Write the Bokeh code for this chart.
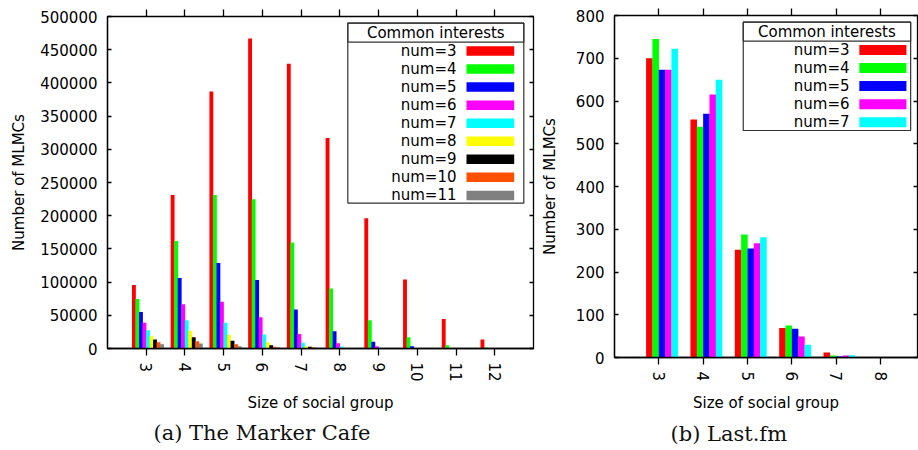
from bokeh.plotting import figure
from bokeh.models import (Range1d, FixedTicker, LinearAxis, BasicTickFormatter,
                          BoxAnnotation, Label, ColumnDataSource, Title)
from bokeh.layouts import row
from bokeh.embed import file_html
from bokeh.resources import INLINE

# ---------------- data ----------------
series_names_a = ["num=3", "num=4", "num=5", "num=6", "num=7", "num=8", "num=9", "num=10", "num=11"]
series_names_b = ["num=3", "num=4", "num=5", "num=6", "num=7"]
series_colors = ["#ff0000", "#00ff00", "#0000ff", "#ff00ff", "#00ffff",
                 "#ffff00", "#000000", "#ff4f00", "#808080"]

cafe_sizes = [3, 4, 5, 6, 7, 8, 9, 10, 11, 12]
cafe_num3 = [95500, 231000, 387000, 467000, 429000, 317000, 196000, 104000, 44600, 13600]
cafe_num4 = [74400, 161800, 231000, 224700, 159800, 90500, 42700, 17000, 5000, 1500]
cafe_num5 = [54800, 106000, 128700, 103000, 58800, 26000, 10000, 3500, 600, 200]
cafe_num6 = [38700, 66800, 70400, 47200, 22000, 8000, 3500, 800, 100, 0]
cafe_num7 = [27600, 42700, 38700, 21100, 8500, 3000, 1000, 200, 0, 0]
cafe_num8 = [18600, 26600, 20600, 9500, 3500, 1000, 300, 0, 0, 0]
cafe_num9 = [13600, 17100, 11600, 5000, 2500, 600, 200, 0, 0, 0]
cafe_num10 = [9500, 11000, 6500, 2500, 2000, 500, 100, 0, 0, 0]
cafe_num11 = [6500, 7500, 3500, 2000, 1000, 300, 0, 0, 0, 0]

lastfm_sizes = [3, 4, 5, 6, 7, 8]
lastfm_num3 = [700, 557, 252, 69, 11.7, 0]
lastfm_num4 = [745, 540, 288, 75, 4.7, 0]
lastfm_num5 = [673, 570, 255, 67, 2.3, 0]
lastfm_num6 = [673, 615, 267, 49, 4.7, 0]
lastfm_num7 = [722, 650, 281, 30, 5.5, 0]

cafe_series = [cafe_num3, cafe_num4, cafe_num5, cafe_num6, cafe_num7,
               cafe_num8, cafe_num9, cafe_num10, cafe_num11]
lastfm_series = [lastfm_num3, lastfm_num4, lastfm_num5, lastfm_num6, lastfm_num7]

FONT = "DejaVu Sans"
FS = "15px"
HEIGHT = 450


def make_chart(width, fx0, fy0, fw, fh, page_x0, x_end, y_max, y_step,
               sizes, series, names, bar_w, caption, caption_left,
               legend_box, legend_label_right, legend_swatch, legend_row0,
               ylab_std, xlab_std):
    bl = fx0 - page_x0
    bt = fy0
    p = figure(width=width, height=HEIGHT, output_backend="svg", toolbar_location=None,
               x_range=Range1d(-1, x_end), y_range=Range1d(0, y_max),
               min_border_left=bl, min_border_top=bt,
               min_border_right=width - bl - fw, min_border_bottom=HEIGHT - bt - fh)
    p.frame_align = False
    p.background_fill_color = "white"
    p.border_fill_color = "white"
    p.outline_line_color = "black"
    p.outline_line_width = 1.3
    p.xgrid.visible = False
    p.ygrid.visible = False

    n = len(series)
    idx = list(range(len(sizes)))
    for j, (vals, name, col) in enumerate(zip(series, names, series_colors)):
        off = (j - (n - 1) / 2 + 0.5) / (n + 2)
        src = ColumnDataSource(dict(x=[i + off for i in idx], top=vals))
        p.vbar(x="x", top="top", width=bar_w, bottom=0, source=src,
               fill_color=col, line_color=None)

    xt = FixedTicker(ticks=idx)
    yt = FixedTicker(ticks=[v * y_step for v in range(int(y_max / y_step) + 1)])

    xa = p.xaxis[0]
    xa.ticker = xt
    xa.major_label_overrides = {i: str(s) for i, s in zip(idx, sizes)}
    xa.major_label_orientation = "vertical"
    xa.major_tick_out = 7
    xa.major_tick_in = 0
    xa.minor_tick_out = 0
    xa.minor_tick_in = 0
    xa.major_label_standoff = 7
    xa.axis_label = "Size of social group"
    xa.axis_label_standoff = xlab_std
    ya = p.yaxis[0]
    ya.ticker = yt
    ya.formatter = BasicTickFormatter(use_scientific=False)
    ya.major_tick_out = 0
    ya.major_tick_in = 4
    ya.minor_tick_out = 0
    ya.minor_tick_in = 0
    ya.major_label_standoff = 10
    ya.axis_label = "Number of MLMCs"
    ya.axis_label_standoff = ylab_std
    for ax in (xa, ya):
        ax.axis_line_color = "black"
        ax.axis_line_width = 1.3
        ax.major_tick_line_color = "black"
        ax.major_tick_line_width = 1.3
        ax.major_label_text_font = FONT
        ax.major_label_text_font_size = FS
        ax.major_label_text_color = "black"
        ax.axis_label_text_font = FONT
        ax.axis_label_text_font_size = FS
        ax.axis_label_text_font_style = "normal"
        ax.axis_label_text_color = "black"

    # mirrored ticks (no labels) on top and right
    top_ax = LinearAxis(ticker=xt, major_tick_out=7, major_tick_in=0,
                        minor_tick_out=0, minor_tick_in=0,
                        major_label_text_font_size="0px", major_label_text_color=None,
                        major_label_text_alpha=0, major_label_standoff=0,
                        axis_line_color=None, major_tick_line_color="black",
                        major_tick_line_width=1.3)
    p.add_layout(top_ax, "above")
    right_ax = LinearAxis(ticker=yt, major_tick_out=0, major_tick_in=4,
                          minor_tick_out=0, minor_tick_in=0,
                          major_label_text_font_size="0px", major_label_text_color=None,
                          major_label_text_alpha=0, major_label_standoff=0,
                          axis_line_color=None, major_tick_line_color="black",
                          major_tick_line_width=1.3)
    p.add_layout(right_ax, "right")

    # pixel -> data helpers
    def dx(px):
        return -1 + (px - fx0) / fw * (x_end + 1)

    def dy(py):
        return y_max * (fy0 + fh - py) / fh

    # legend (gnuplot style: title row, label then swatch)
    lx0, lx1, ly0, ly1, ldiv = legend_box
    p.add_layout(BoxAnnotation(left=dx(lx0), right=dx(lx1), top=dy(ly0), bottom=dy(ly1),
                               fill_color="white", fill_alpha=1.0,
                               line_color="#333333", line_alpha=1.0, line_width=1.2,
                               level="overlay"))
    p.add_layout(BoxAnnotation(left=dx(lx0), right=dx(lx1), top=dy(ly0), bottom=dy(ldiv),
                               fill_alpha=0.0, line_color="#333333", line_alpha=1.0,
                               line_width=1.2, level="overlay"))
    p.add_layout(Label(x=dx((lx0 + lx1) / 2), y=dy((ly0 + ldiv) / 2 + 0.5),
                       text="Common interests", text_font=FONT, text_font_size=FS,
                       text_align="center", text_baseline="middle", text_color="black",
                       level="overlay"))
    sw0, sw1, swh = legend_swatch
    for j, (name, col) in enumerate(zip(names, series_colors)):
        cy = legend_row0 + 18.05 * j
        p.add_layout(Label(x=dx(legend_label_right), y=dy(cy), text=name,
                           text_font=FONT, text_font_size=FS, text_align="right",
                           text_baseline="middle", text_color="black", level="overlay"))
        p.add_layout(BoxAnnotation(left=dx(sw0), right=dx(sw1),
                                   top=dy(cy - swh / 2), bottom=dy(cy + swh / 2),
                                   fill_color=col, fill_alpha=1.0, line_alpha=0.0,
                                   level="overlay"))

    # caption below the chart
    p.add_layout(Title(text=caption, align="left", offset=caption_left - fx0,
                       text_font="DejaVu Serif", text_font_size="21px",
                       text_font_style="normal", text_color="#111111", standoff=8),
                 "below")
    return p


p1 = make_chart(width=537, fx0=107, fy0=16, fw=426, fh=332, page_x0=0,
                x_end=10, y_max=500000, y_step=50000,
                sizes=cafe_sizes, series=cafe_series, names=series_names_a, bar_w=0.1,
                caption="(a) The Marker Cafe", caption_left=153,
                legend_box=(347.3, 523.3, 22.7, 202.7, 41.7), legend_label_right=456,
                legend_swatch=(466, 513.7, 9.5), legend_row0=50.5,
                ylab_std=9, xlab_std=9)

p2 = make_chart(width=381, fx0=608, fy0=15, fw=309, fh=342, page_x0=537,
                x_end=5.83, y_max=800, y_step=100,
                sizes=lastfm_sizes, series=lastfm_series, names=series_names_b, bar_w=0.147,
                caption="(b) Last.fm", caption_left=664,
                legend_box=(739.3, 910, 21.7, 130, 40.7), legend_label_right=847.7,
                legend_swatch=(857.7, 905.7, 10), legend_row0=49.5,
                ylab_std=14, xlab_std=10)

layout = row(p1, p2)
open("out.html", "w").write(file_html(layout, INLINE))
